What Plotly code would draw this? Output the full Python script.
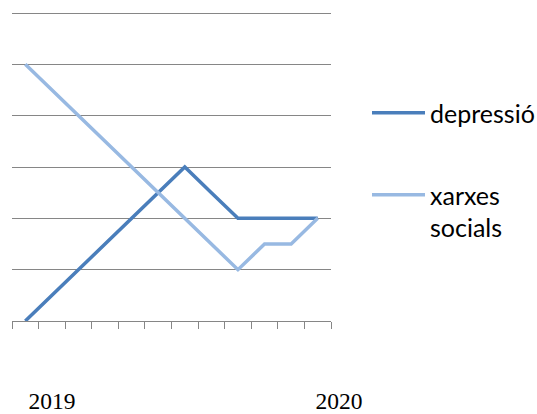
import plotly.graph_objects as go

# Series values, one per month step
steps = list(range(12))
depressio = [0, 0.5, 1, 1.5, 2, 2.5, 3, 2.5, 2, 2, 2, 2]
xarxes = [5, 4.5, 4, 3.5, 3, 2.5, 2, 1.5, 1, 1.5, 1.5, 2]

# Year labels along the bottom
year_pos = [1.0, 11.8]
year_text = ["2019", "2020"]

W, H = 537, 414
ML, MR, MT, MB = 12, 0, 8, 0
pw, ph = W - ML - MR, H - MT - MB

def px_x(px):
    return (px - ML) / pw

def px_y(py):
    return (H - MB - py) / ph

plot_right = 331
plot_bottom = 321
grid_top = 13
px_per_unit = (plot_bottom - grid_top) / 6
units_per_px = 12 / (plot_right - ML)

fig = go.Figure()
fig.add_trace(go.Scatter(
    x=steps, y=depressio, mode="lines", name="depressió",
    line=dict(color="#4a7ebb", width=3.5), legend="legend",
))
fig.add_trace(go.Scatter(
    x=steps, y=xarxes, mode="lines", name="xarxes<br>socials",
    line=dict(color="#98b9e2", width=3.5), legend="legend2",
))
# empty trace holding the year-label axis on its own strip
fig.add_trace(go.Scatter(
    x=year_pos, y=[0, 0], xaxis="x2", yaxis="y2", mode="lines",
    line=dict(width=0), showlegend=False, hoverinfo="skip",
))

legend_font = dict(family="Lato", size=25, color="#000000")

fig.update_layout(
    width=W, height=H,
    margin=dict(l=ML, r=MR, t=MT, b=MB, autoexpand=False),
    paper_bgcolor="white", plot_bgcolor="white",
    showlegend=True,
    xaxis=dict(
        domain=[0, px_x(plot_right)],
        range=[-0.5, 11.5],
        showgrid=False, zeroline=False,
        showline=True, linecolor="#868686", linewidth=1,
        tickmode="array", tickvals=[i - 0.5 for i in range(13)],
        ticks="outside", ticklen=7, tickcolor="#868686", tickwidth=1,
        showticklabels=False, fixedrange=True,
    ),
    yaxis=dict(
        domain=[px_y(plot_bottom), 1],
        range=[0, 6 + (grid_top - MT) / px_per_unit],
        showgrid=True, gridcolor="#868686", gridwidth=1,
        tickmode="array", tickvals=[1, 2, 3, 4, 5, 6],
        zeroline=False, showline=False,
        showticklabels=False, ticks="",
    ),
    xaxis2=dict(
        domain=[0, 1],
        range=[-0.5, -0.5 + pw * units_per_px],
        anchor="y2",
        showgrid=False, zeroline=False, showline=False,
        tickmode="array", tickvals=year_pos, ticktext=year_text,
        ticks="", tickfont=dict(family="Liberation Serif", size=23.5, color="#000000"),
    ),
    yaxis2=dict(
        domain=[px_y(384), px_y(382)],
        range=[-1, 1], anchor="x2",
        visible=False,
    ),
    legend=dict(
        x=px_x(367), y=px_y(113), xanchor="left", yanchor="middle",
        font=legend_font, itemwidth=53, bgcolor="rgba(0,0,0,0)",
        itemclick=False,
    ),
    legend2=dict(
        x=px_x(367), y=px_y(172), xanchor="left", yanchor="top",
        font=legend_font, itemwidth=53, valign="top", bgcolor="rgba(0,0,0,0)",
        itemclick=False,
    ),
)

fig.write_html("out.html")
